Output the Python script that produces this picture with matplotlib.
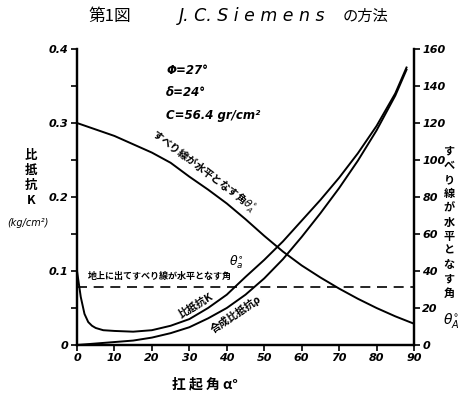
import matplotlib
matplotlib.use("Agg")
import matplotlib.pyplot as plt
import numpy as np

plt.rcParams['font.family'] = ['Noto Sans CJK JP', 'DejaVu Sans']

# ---- data ----
alpha_theta = [0, 5, 10, 15, 20, 25, 30, 35, 40, 45, 50, 55, 60, 65, 70, 75, 80, 85, 90]
theta_A = [120, 116.5, 113, 108.5, 104, 98.5, 91, 84, 76.5, 68, 59, 50.5, 43, 36.5, 30.5, 25, 20, 15.5, 11.5]

alpha_K = [0, 1, 2, 3, 4, 5, 7, 10, 15, 20, 25, 30, 35, 40, 45, 50, 55, 60, 65, 70, 75, 80, 85, 88]
K = [0.100, 0.065, 0.042, 0.031, 0.026, 0.023, 0.020, 0.019, 0.018, 0.020, 0.026, 0.035,
     0.050, 0.068, 0.092, 0.115, 0.140, 0.168, 0.196, 0.226, 0.259, 0.296, 0.340, 0.375]

alpha_R = [0, 5, 10, 15, 20, 25, 30, 35, 40, 45, 50, 55, 60, 65, 70, 75, 80, 85, 88]
R = [0.000, 0.002, 0.004, 0.006, 0.010, 0.016, 0.024, 0.036, 0.050, 0.068, 0.090, 0.116,
     0.146, 0.178, 0.212, 0.249, 0.290, 0.337, 0.372]

surface_K = 0.079

x_ticks = [0, 10, 20, 30, 40, 50, 60, 70, 80, 90]
left_ticks = [0, 0.1, 0.2, 0.3, 0.4]
left_labels = ['0', '0.1', '0.2', '0.3', '0.4']
right_ticks = [0, 20, 40, 60, 80, 100, 120, 140, 160]

W, H = 461, 397
fig = plt.figure(figsize=(W / 100, H / 100), dpi=100)
ax = fig.add_axes([77 / W, 1 - 345 / H, (414 - 77) / W, (345 - 49) / H])
ax2 = ax.twinx()

lc = 'black'
ax.plot(alpha_K, K, color=lc, lw=1.4)
ax.plot(alpha_R, R, color=lc, lw=1.4)
ax.axhline(surface_K, color=lc, lw=1.2, dashes=(6, 4))
ax2.plot(alpha_theta, theta_A, color=lc, lw=1.4)

ax.set_xlim(0, 90)
ax.set_ylim(0, 0.4)
ax2.set_ylim(0, 160)

for a in (ax, ax2):
    a.spines['top'].set_visible(False)
    for s in ('left', 'right', 'bottom'):
        a.spines[s].set_linewidth(1.6)

tick_font = dict(fontstyle='italic', fontweight='bold', family='DejaVu Sans', fontsize=8)
ax.set_xticks(x_ticks)
ax.set_xticklabels([str(v) for v in x_ticks], **tick_font)
ax.set_yticks(left_ticks)
ax.set_yticklabels(left_labels, **tick_font)
ax.set_yticks(np.arange(0.05, 0.4, 0.1), minor=True)
ax2.set_yticks(right_ticks)
ax2.set_yticklabels([str(v) for v in right_ticks], **tick_font)
ax.tick_params(axis='both', which='both', direction='out', length=4, width=1.2, pad=2)
ax2.tick_params(axis='y', direction='out', length=4, width=1.2, pad=2)

def fx(x):
    return x / W

def fy(y):
    return 1 - y / H

# title
fig.text(fx(110), fy(16), '第1図', fontsize=12, ha='center', va='center')
fig.text(fx(252), fy(16), 'J. C. S i e m e n s', fontsize=12.5, ha='center', va='center',
         family='DejaVu Sans', fontstyle='italic')
fig.text(fx(365), fy(16), 'の方法', fontsize=11, ha='center', va='center')

# parameters
pfont = dict(fontsize=8.5, fontweight='bold', fontstyle='italic', family='DejaVu Sans', ha='left', va='center')
fig.text(fx(166), fy(71), 'Φ=27°', **pfont)
fig.text(fx(166), fy(93), 'δ=24°', **pfont)
fig.text(fx(166), fy(116), 'C=56.4 gr/cm²', **pfont)

# left axis label
fig.text(fx(31), fy(178), '比\n抵\n抗\nK', fontsize=9, fontweight='bold', ha='center', va='center',
         linespacing=1.2)
fig.text(fx(28), fy(223), '(kg/cm²)', fontsize=7, fontstyle='italic', family='DejaVu Sans',
         ha='center', va='center')

# right axis label
fig.text(fx(449), fy(222), '\n'.join('すべり線が水平となす角'), fontsize=8, fontweight='bold',
         ha='center', va='center', linespacing=1.12)
fig.text(fx(451), fy(320), r'$\theta^{\circ}_{A}$', fontsize=10, ha='center', va='center')

# x label
fig.text(fx(205), fy(384), '扛 起 角 α°', fontsize=10, fontweight='bold', ha='center', va='center')

# curve labels
fig.text(fx(204), fy(171), r'すべり線が水平となす角$\theta^{\circ}_{A}$', fontsize=7.5, fontweight='bold',
         rotation=-37, ha='center', va='center', rotation_mode='anchor')
fig.text(fx(160), fy(276), '地上に出てすべり線が水平となす角', fontsize=6.5, fontweight='bold',
         ha='center', va='center')
fig.text(fx(236), fy(262), r'$\theta^{\circ}_{a}$', fontsize=9, ha='center', va='center')
fig.text(fx(196), fy(306), '比抵抗K', fontsize=7.5, fontweight='bold', rotation=31,
         ha='center', va='center', rotation_mode='anchor')
fig.text(fx(236), fy(314), '合成比抵抗ρ', fontsize=7.5, fontweight='bold', rotation=34,
         ha='center', va='center', rotation_mode='anchor')

fig.savefig('out.png', dpi=100)
